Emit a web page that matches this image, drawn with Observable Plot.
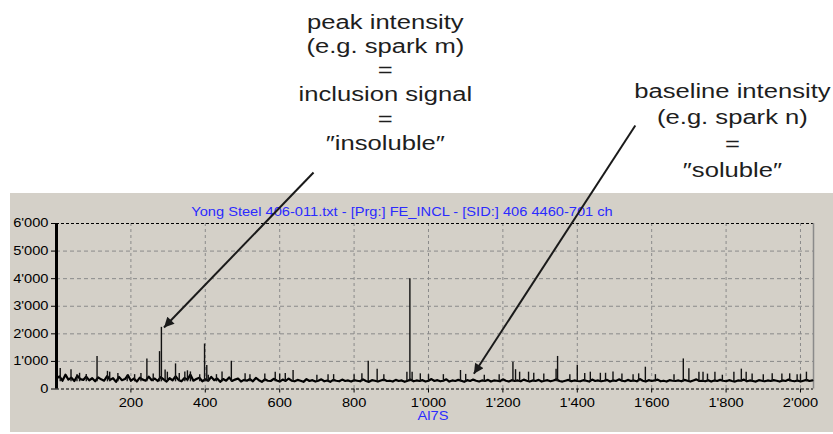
<!DOCTYPE html>
<html><head><meta charset="utf-8">
<script src="https://cdn.jsdelivr.net/npm/d3@7"></script>
<script src="https://cdn.jsdelivr.net/npm/@observablehq/plot@0.6"></script>
<style>html,body{margin:0;padding:0;background:#fff;} #chart svg{display:block;}</style>
</head><body><div id="chart"></div>
<script>
const chartTitle = "Yong Steel 406-011.txt - [Prg:] FE_INCL - [SID:] 406 4460-701 ch";
const xLabel = "Al7S";
const xTicks = [200, 400, 600, 800, 1000, 1200, 1400, 1600, 1800, 2000];
const yTicks = [0, 1000, 2000, 3000, 4000, 5000, 6000];
const xMax = 2035;
const peakText = "peak intensity\n(e.g. spark m)\n=\ninclusion signal\n=\n\u2033insoluble\u2033";
const baseText = "baseline intensity\n(e.g. spark n)\n=\n\u2033soluble\u2033";

// baseline intensity, one reading every 8 sparks
const baselineStep = 8;
const baseline = [
 380,460,300,520,340,410,290,480,360,330,450,310,390,280,420,350,
 300,470,330,390,260,440,320,360,500,300,380,270,410,340,300,450,
 320,380,290,430,350,270,390,310,460,330,280,400,340,520,300,360,
 410,280,350,300,440,320,380,260,360,300,420,290,340,380,270,330,
 300,360,280,400,320,260,350,300,290,370,310,270,340,290,380,300,
 280,330,300,260,360,290,320,270,300,350,280,310,260,330,300,280,
 340,290,310,270,320,300,280,350,290,260,320,300,270,310,340,290,
 300,270,330,290,310,260,300,340,280,310,290,320,270,300,360,290,
 320,280,300,350,270,310,290,330,300,260,320,290,340,300,270,310,
 290,330,270,310,300,280,350,300,270,320,290,310,280,340,300,270,
 310,290,330,270,300,320,280,310,350,290,270,300,330,280,310,290,
 280,320,300,270,340,290,310,280,300,330,270,310,290,350,300,280,
 330,290,310,280,360,300,270,320,290,310,340,280,300,270,320,300,
 290,310,280,330,300,270,310,350,290,300,280,320,270,310,290,330,
 300,280,320,290,270,310,300,340,280,310,290,270,320,300,280,310,
 290,320,300,270,310,290,340,300,280,310,270,300,330,290,310
];

// single-spark peaks (spark number, intensity)
const spikeChannels = [0,10,39,55,62,80,109,137,143,165,190,210,227,243,260,277,282,292,298,320,330,345,352,360,385,398,404,408,430,445,470,507,520,560,588,600,615,636,700,730,745,800,821,838,862,880,942,950,956,978,1000,1040,1086,1100,1150,1190,1227,1234,1245,1269,1283,1310,1343,1347,1380,1400,1420,1435,1462,1476,1496,1520,1550,1565,1583,1610,1660,1685,1700,1727,1738,1750,1770,1790,1821,1841,1854,1870,1900,1924,1950,1971,1991,2000,2016];
const spikeValues   = [6000,740,700,520,570,530,1175,640,610,560,500,520,560,1090,540,1355,2235,690,610,910,560,620,660,620,520,1630,850,500,520,620,1005,550,520,540,610,540,560,670,500,520,520,520,550,1005,720,520,610,4000,610,550,520,520,670,530,500,520,970,700,610,610,570,540,720,1180,520,860,560,610,570,570,620,540,520,550,790,520,520,1090,730,610,610,540,610,500,610,720,610,540,520,550,540,550,520,520,610];

const fmt = d3.formatLocale({decimal: ".", thousands: "'", grouping: [3], currency: ["", ""]}).format(",d");
const line = baseline.map((v, i) => ({ch: i * baselineStep, v}));
const spikes = spikeChannels.map((c, i) => ({ch: c, v: spikeValues[i]}));
const arrows = [
  {x1: 691, y1: 7849, x2: 289, y2: 2230},
  {x1: 1556, y1: 9555, x2: 1122, y2: 551}
];
const blue = "#2b2bff";
const grid = "#8a8a8a";

const plot = Plot.plot({
  width: 833, height: 434,
  marginLeft: 56, marginRight: 20, marginTop: 223, marginBottom: 45.5,
  style: {fontFamily: "'Liberation Sans', Arial, sans-serif", fontSize: "12px", color: "#000", background: "transparent", overflow: "visible"},
  x: {domain: [0, xMax], ticks: xTicks, tickFormat: fmt, tickSize: 4, tickPadding: 5, label: null},
  y: {domain: [0, 6000], ticks: yTicks, tickFormat: fmt, tickSize: 5, tickPadding: 3, label: null},
  marks: [
    Plot.ruleX(xTicks, {stroke: grid, strokeDasharray: "3,3"}),
    Plot.ruleY(yTicks.slice(1, -1), {stroke: grid, strokeDasharray: "4,3"}),
    Plot.ruleY([yTicks[0], yTicks[yTicks.length - 1]], {stroke: "#000", strokeDasharray: "3,2"}),
    Plot.ruleX([xMax], {stroke: "#8a8a8a", strokeWidth: 1.5}),
    Plot.line(line, {x: "ch", y: "v", stroke: "#000", strokeWidth: 2.2}),
    Plot.ruleX(spikes, {x: "ch", y1: 260, y2: "v", stroke: "#111", strokeWidth: 1.4}),
    Plot.ruleX(spikes.slice(0, 1), {x: "ch", y1: 0, y2: "v", stroke: "#000", strokeWidth: 3}),
    Plot.text([chartTitle], {frameAnchor: "top", dx: -33, dy: -16, fill: blue, fontSize: 12}),
    Plot.text([xLabel], {frameAnchor: "bottom", dx: -2, dy: 31, fill: blue, fontSize: 12}),
    Plot.text([peakText], {x: 884, y: 11141, fill: "#1e1e1e", fontSize: 21, lineHeight: 1.15, lineAnchor: "middle"}),
    Plot.text([baseText], {x: 1817, y: 9420, fill: "#1e1e1e", fontSize: 21, lineHeight: 1.25, lineAnchor: "middle"}),
    Plot.link(arrows, {x1: "x1", y1: "y1", x2: "x2", y2: "y2", stroke: "#1a1a1a", strokeWidth: 2, className: "ann-arrow"})
  ]
});

const svg = d3.select(plot);
svg.insert("rect", ":first-child")
  .attr("x", 10).attr("y", 193).attr("width", 823).attr("height", 239).attr("fill", "#d4d0c8");
svg.append("defs").append("marker")
  .attr("id", "ahead").attr("viewBox", "0 0 10 10").attr("refX", 10).attr("refY", 5)
  .attr("markerUnits", "userSpaceOnUse").attr("markerWidth", 14).attr("markerHeight", 10)
  .attr("orient", "auto")
  .append("path").attr("d", "M0,0L10,5L0,10z").attr("fill", "#1a1a1a");
svg.selectAll("g.ann-arrow path").attr("marker-end", "url(#ahead)");
svg.selectAll("text").each(function () {
  const t = this.getAttribute("transform") || "";
  this.setAttribute("transform", t + " scale(1.22,1)");
});
document.getElementById("chart").appendChild(plot);
</script>
</body></html>
